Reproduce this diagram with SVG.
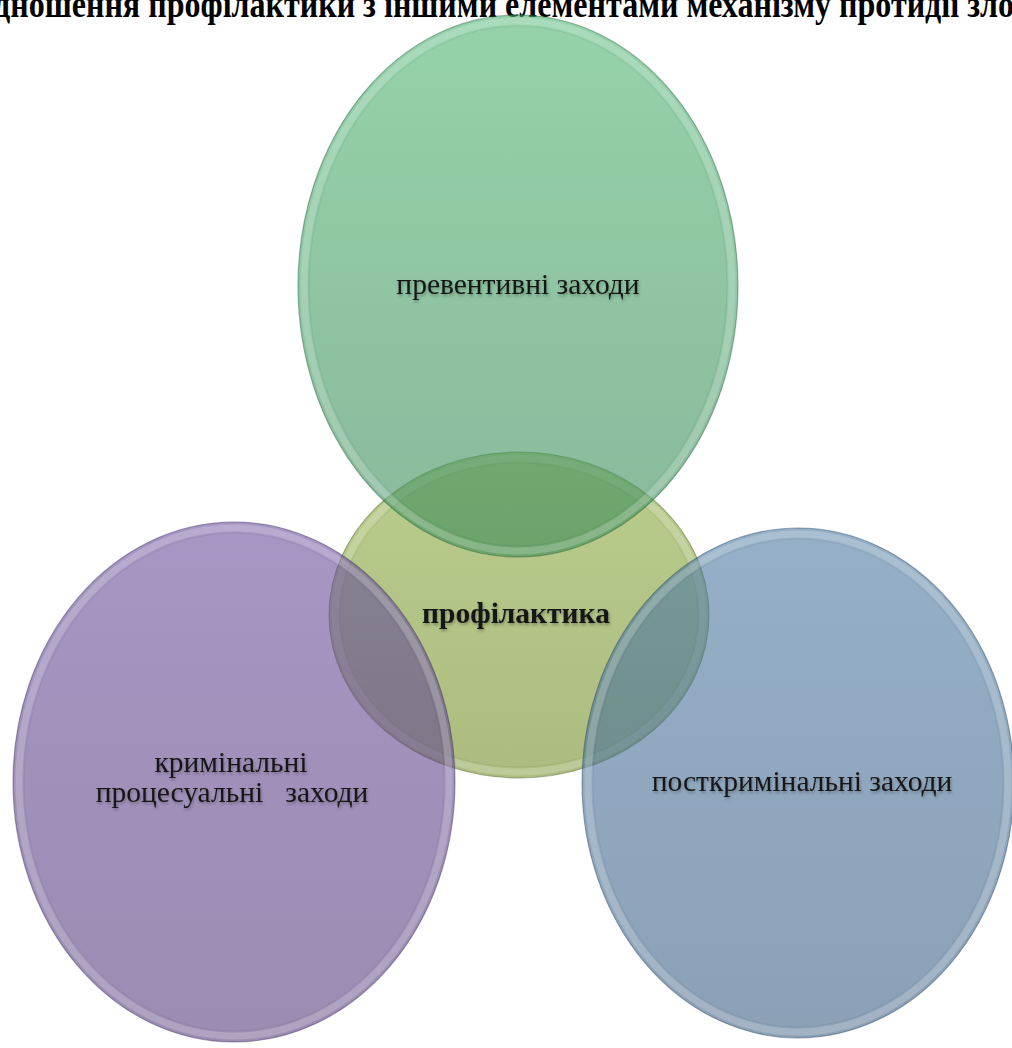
<svg xmlns="http://www.w3.org/2000/svg" width="1012" height="1048" viewBox="0 0 1012 1048">
  <style>
    .lbl { font-family: "Liberation Serif", "Times New Roman", serif; font-size: 29.5px; fill: #161616; text-anchor: middle; filter: url(#tshadow); }
    .bold { font-weight: bold; }
    .title { font-family: "Liberation Serif", "Times New Roman", serif; font-size: 38px; font-weight: bold; fill: #000; }
    .edge { fill: none; stroke-width: 1.1; }
    .rim { fill: none; stroke: #ffffff; stroke-opacity: 0.2; stroke-width: 7; }
    .rimline { fill: none; stroke: #000000; stroke-opacity: 0.06; stroke-width: 1; }
  </style>
  <defs>
    <filter id="tshadow" x="-10%" y="-30%" width="120%" height="170%">
      <feDropShadow dx="1" dy="2" stdDeviation="1.5" flood-color="#000" flood-opacity="0.3"/>
    </filter>
    <linearGradient id="gGreen" x1="0" y1="0" x2="0" y2="1">
      <stop offset="0" stop-color="#4eb473" stop-opacity="0.6"/>
      <stop offset="1" stop-color="#3a8a58" stop-opacity="0.6"/>
    </linearGradient>
    <linearGradient id="gYellow" x1="0" y1="0" x2="0" y2="1">
      <stop offset="0" stop-color="#8aac3f" stop-opacity="0.6"/>
      <stop offset="1" stop-color="#758f2b" stop-opacity="0.6"/>
    </linearGradient>
    <linearGradient id="gPurple" x1="0" y1="0" x2="0" y2="1">
      <stop offset="0" stop-color="#69509b" stop-opacity="0.6"/>
      <stop offset="1" stop-color="#583f7f" stop-opacity="0.6"/>
    </linearGradient>
    <linearGradient id="gBlue" x1="0" y1="0" x2="0" y2="1">
      <stop offset="0" stop-color="#4d7ba3" stop-opacity="0.6"/>
      <stop offset="1" stop-color="#3f6185" stop-opacity="0.6"/>
    </linearGradient>
  </defs>

  <rect x="0" y="0" width="1012" height="1048" fill="#ffffff"/>

  <g id="title">
    <text class="title" x="-6" y="17" textLength="1020" lengthAdjust="spacingAndGlyphs">дношення профілактики з іншими елементами механізму протидії зло</text>
  </g>

  <g id="connectors"/>

  <g id="node-profilaktyka">
    <ellipse cx="519" cy="615" rx="190" ry="163" fill="url(#gYellow)"/>
    <ellipse class="rim" cx="519" cy="615" rx="184" ry="157"/>
    <ellipse class="rimline" cx="519" cy="615" rx="179" ry="152"/>
    <ellipse class="edge" cx="519" cy="615" rx="190" ry="163" stroke="#4d5f2a" stroke-opacity="0.45"/>
    <text class="lbl bold" x="516" y="623">профілактика</text>
  </g>

  <g id="node-preventive">
    <ellipse cx="518" cy="286" rx="220" ry="271" fill="url(#gGreen)"/>
    <ellipse class="rim" cx="518" cy="286" rx="214" ry="265"/>
    <ellipse class="rimline" cx="518" cy="286" rx="209" ry="260"/>
    <ellipse class="edge" cx="518" cy="286" rx="220" ry="271" stroke="#1f5a35" stroke-opacity="0.45"/>
    <text class="lbl" x="518" y="294">превентивні заходи</text>
  </g>

  <g id="node-criminal-procedural">
    <ellipse cx="234" cy="782" rx="221" ry="260" fill="url(#gPurple)"/>
    <ellipse class="rim" cx="234" cy="782" rx="215" ry="254"/>
    <ellipse class="rimline" cx="234" cy="782" rx="210" ry="249"/>
    <ellipse class="edge" cx="234" cy="782" rx="221" ry="260" stroke="#3a2a5a" stroke-opacity="0.45"/>
    <text class="lbl" x="231" y="772">кримінальні</text>
    <text class="lbl" x="232" y="802" xml:space="preserve">процесуальні   заходи</text>
  </g>

  <g id="node-postcriminal">
    <ellipse cx="798" cy="783" rx="216" ry="255" fill="url(#gBlue)"/>
    <ellipse class="rim" cx="798" cy="783" rx="210" ry="249"/>
    <ellipse class="rimline" cx="798" cy="783" rx="205" ry="244"/>
    <ellipse class="edge" cx="798" cy="783" rx="216" ry="255" stroke="#23405e" stroke-opacity="0.45"/>
    <text class="lbl" x="802" y="791">посткримінальні заходи</text>
  </g>
</svg>
